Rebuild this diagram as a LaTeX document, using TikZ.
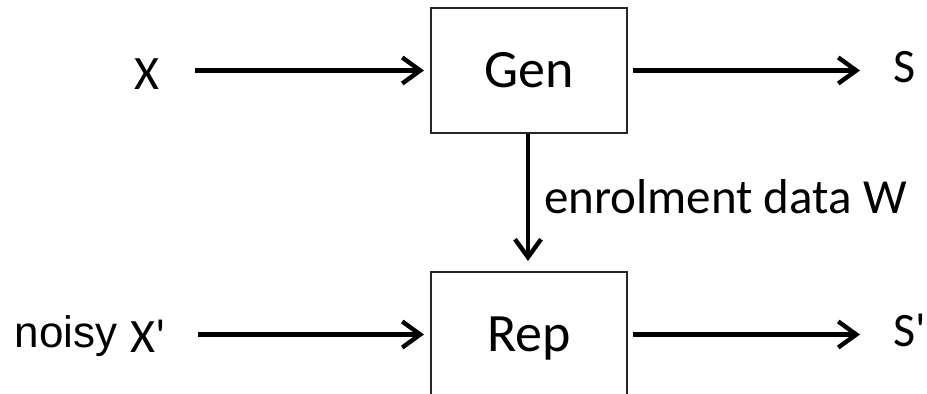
\documentclass[tikz,border=0pt]{standalone}
\usepackage{fontspec}
\setmainfont{Carlito}
\newfontfamily\arialfont{Liberation Sans}
\usetikzlibrary{arrows.meta}

\begin{document}
\begin{tikzpicture}[x=0.5pt, y=-0.5pt,
      box/.style={rectangle, draw=black!85, line width=1pt, minimum width=98pt, minimum height=62.5pt,
        inner sep=0pt, text height=17.4pt, text depth=0pt, font=\fontsize{27}{32}\selectfont},
      lbl/.style={inner sep=0pt, text height=15.5pt, text depth=0pt, font=\fontsize{24}{29}\selectfont},
      flow/.style={-{Straight Barb[length=9pt, width=13pt]}, line width=2.2pt}]

      \useasboundingbox (0,0) rectangle (927,394);

      % Blocks
      \node[box] (gen) at (529,70.5) {Gen};
      \node[box] (rep) at (529,334.5) {Rep};

      % Inputs and outputs
      \node[lbl] (x) at (146.5,74) {X};
      \node[lbl] (xn) at (148,337.5) {X\textquotesingle};
      \node[anchor=base east, inner sep=0pt, font=\arialfont\fontsize{22}{26}\selectfont] (noisy) at (118,348) {noisy};
      \node[lbl, anchor=west] (s) at (893,67.5) {S};
      \node[lbl, anchor=west] (sn) at (893,331) {S\textquotesingle};

      % Arrows
      \draw[flow, shorten <=18pt, shorten >=3pt] (x.east |- gen.west) -- (gen.west);
      \draw[flow, shorten <=2.5pt, shorten >=16.5pt] (gen.east) -- (s.west |- gen.east);
      \draw[flow, shorten <=16pt, shorten >=3pt] (xn.east |- rep.west) -- (rep.west);
      \draw[flow, shorten <=2.5pt, shorten >=16.5pt] (rep.east) -- (sn.west |- rep.east);
      \draw[flow, shorten >=5pt] ([xshift=-0.5pt]gen.south) -- ([xshift=-0.5pt]rep.north)
        node[pos=0.5, anchor=base west, inner sep=0pt, xshift=7pt, yshift=-5.5pt, font=\fontsize{24.5}{29}\selectfont] (data) {enrolment data W};
    \end{tikzpicture}
\end{document}
